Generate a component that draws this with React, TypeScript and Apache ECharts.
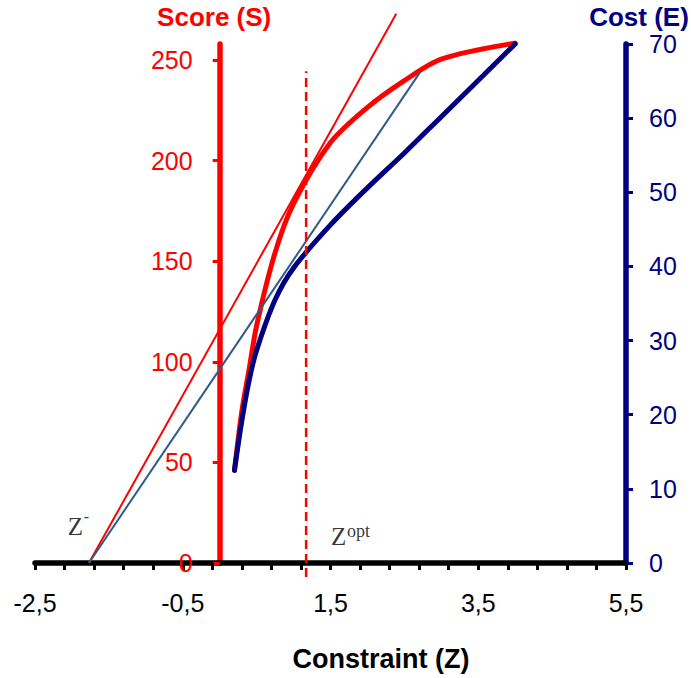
import React, { useEffect, useRef } from 'react';
import * as echarts from 'echarts';

// ---- data ----
const zValues = [0.2, 0.3, 0.4, 0.5, 0.75, 1, 1.5, 2, 2.5, 3, 4];
const scoreValues = [46, 75.5, 96.6, 118, 154.3, 178.6, 209, 226.5, 239.8, 250.5, 258.4];
const costValues = [12.5, 19.2, 24.7, 28.7, 35.5, 39.8, 45.6, 50.6, 55.3, 60.2, 70];

const zMinus = -1.77;
const zOpt = 1.17;
const scoreTangentEnd = [2.39, 273];
const costTangentEnd = [2.72, 66.3];
const zOptLineRange = [-7, 244.5];

const xTickValues = [-2.5, -2.1, -1.7, -1.3, -0.9, -0.5, -0.1, 0.3, 0.7, 1.1, 1.5, 1.9, 2.3, 2.7, 3.1, 3.5, 3.9, 4.3, 4.7, 5.1, 5.5];
const xLabelValues = [-2.5, -0.5, 1.5, 3.5, 5.5];
const scoreTickValues = [0, 50, 100, 150, 200, 250];

const X_MIN = -2.5;
const X_MAX = 5.5;

const W = 691;
const H = 678;
const GRID = { left: 35, right: 65, top: 44, bottom: 115 };

const RED = '#FF0000';
const NAVY = '#000080';
const STEEL = '#2E5C8A';
const SANS = '"Liberation Sans", Arial, Helvetica, sans-serif';
const SERIF = '"Liberation Serif", "Times New Roman", serif';

const fmtComma = (v: number) => v.toFixed(1).replace('.', ',');

export default function App() {
  const ref = useRef<HTMLDivElement>(null);

  useEffect(() => {
    const chart = echarts.init(ref.current!, null, { renderer: 'svg' });

    // the score axis stands at Z = 0 inside the plot
    const plotWidth = W - GRID.left - GRID.right;
    const scoreAxisOffset = -plotWidth * (0 - X_MIN) / (X_MAX - X_MIN);

    const annotations = [
      { value: [zMinus, 0], text: 'Z', size: 25, offset: [-21.2, -37] },
      { value: [zMinus, 0], text: '-', size: 16, offset: [-5.2, -46.4] },
      { value: [zOpt, 0], text: 'Z', size: 25, offset: [24.9, -26.7] },
      { value: [zOpt, 0], text: 'opt', size: 18, offset: [40.9, -32.4] },
    ];

    const option: any = {
      animation: false,
      textStyle: { fontFamily: SANS },
      grid: { ...GRID, containLabel: false, outerBoundsMode: 'none' },
      xAxis: {
        type: 'value',
        min: X_MIN,
        max: X_MAX,
        name: 'Constraint (Z)',
        nameLocation: 'middle',
        nameGap: 82,
        nameTextStyle: { fontSize: 27, fontWeight: 'bold', color: '#000', fontFamily: SANS, padding: [0, 0, 0, 101] },
        axisLine: { show: true, onZero: false, lineStyle: { color: '#000', width: 5.5 } },
        axisTick: { show: true, customValues: xTickValues, length: 7, lineStyle: { color: '#000', width: 3 } },
        axisLabel: { customValues: xLabelValues, formatter: fmtComma, fontSize: 25, color: '#000', margin: 27, fontFamily: SANS },
        splitLine: { show: false },
      },
      yAxis: [
        {
          type: 'value',
          min: 0,
          max: 258,
          position: 'left',
          offset: scoreAxisOffset,
          name: 'Score (S)',
          nameLocation: 'end',
          nameGap: 14,
          nameTextStyle: { fontSize: 26, fontWeight: 'bold', color: RED, fontFamily: SANS, padding: [0, 11, 0, 0] },
          axisLine: { show: true, onZero: false, lineStyle: { color: RED, width: 5.5 } },
          axisTick: { show: true, customValues: scoreTickValues, length: 7, lineStyle: { color: RED, width: 3 } },
          axisLabel: { customValues: scoreTickValues, fontSize: 25, color: RED, margin: 27, fontFamily: SANS },
          splitLine: { show: false },
        },
        {
          type: 'value',
          min: 0,
          max: 70,
          interval: 10,
          position: 'right',
          name: 'Cost (E)',
          nameLocation: 'end',
          nameGap: 14,
          nameTextStyle: { fontSize: 26, fontWeight: 'bold', color: NAVY, fontFamily: SANS, padding: [0, 0, 0, 26] },
          axisLine: { show: true, onZero: false, lineStyle: { color: NAVY, width: 5.5 } },
          axisTick: { show: true, length: 7, lineStyle: { color: NAVY, width: 3 } },
          axisLabel: { fontSize: 25, color: NAVY, margin: 23, fontFamily: SANS },
          splitLine: { show: false },
        },
      ],
      series: [
        {
          type: 'line',
          name: 'Score',
          xAxisIndex: 0,
          yAxisIndex: 0,
          data: zValues.map((z, i) => [z, scoreValues[i]]),
          smooth: 0.3,
          symbol: 'none',
          clip: false,
          silent: true,
          lineStyle: { color: RED, width: 5, cap: 'round', join: 'round' },
        },
        {
          type: 'line',
          name: 'Cost',
          xAxisIndex: 0,
          yAxisIndex: 1,
          data: zValues.map((z, i) => [z, costValues[i]]),
          smooth: 0.3,
          symbol: 'none',
          clip: false,
          silent: true,
          lineStyle: { color: NAVY, width: 5, cap: 'round', join: 'round' },
        },
        {
          type: 'line',
          name: 'Score tangent',
          xAxisIndex: 0,
          yAxisIndex: 0,
          data: [[zMinus, 0], scoreTangentEnd],
          symbol: 'none',
          clip: false,
          silent: true,
          lineStyle: { color: RED, width: 2 },
        },
        {
          type: 'line',
          name: 'Cost tangent',
          xAxisIndex: 0,
          yAxisIndex: 1,
          data: [[zMinus, 0], costTangentEnd],
          symbol: 'none',
          clip: false,
          silent: true,
          lineStyle: { color: STEEL, width: 2 },
        },
        {
          type: 'line',
          name: 'Z opt',
          xAxisIndex: 0,
          yAxisIndex: 0,
          data: [[zOpt, zOptLineRange[0]], [zOpt, zOptLineRange[1]]],
          symbol: 'none',
          clip: false,
          silent: true,
          lineStyle: { color: RED, width: 2.5, type: [9, 5] },
        },
        {
          type: 'scatter',
          name: 'labels',
          xAxisIndex: 0,
          yAxisIndex: 0,
          symbolSize: 0,
          silent: true,
          clip: false,
          data: annotations.map((a) => ({
            value: a.value,
            label: {
              show: true,
              position: 'inside',
              align: 'left',
              verticalAlign: 'middle',
              formatter: a.text,
              fontFamily: SERIF,
              fontSize: a.size,
              color: '#000',
              offset: a.offset,
            },
          })),
        },
      ],
    };

    chart.setOption(option);
    return () => chart.dispose();
  }, []);

  return (
    <div
      ref={ref}
      style={{ position: 'absolute', left: 0, top: 0, width: W, height: H, background: '#fff' }}
    />
  );
}
